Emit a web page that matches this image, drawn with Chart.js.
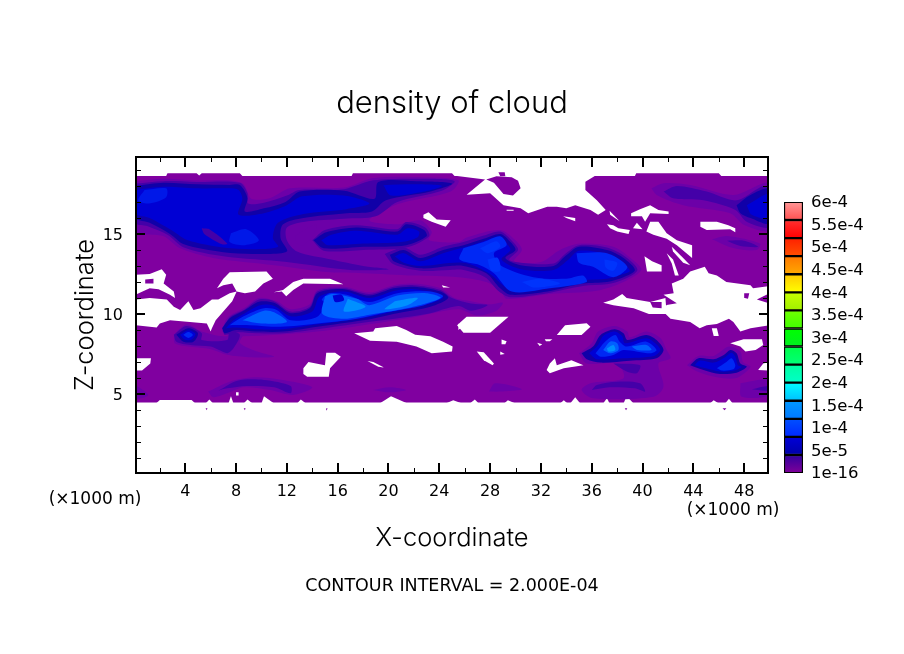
<!DOCTYPE html>
<html>
<head>
<meta charset="utf-8">
<title>density of cloud</title>
<script src="https://cdn.jsdelivr.net/npm/chart.js@4"></script>
<style>
  body { margin: 0; background: #fff; }
  #wrap { position: relative; width: 904px; height: 654px; overflow: hidden; }
  #mainChart { position: absolute; left: 0; top: 0; }
  #barChart { position: absolute; left: 770px; top: 184px; }
</style>
</head>
<body>
<div id="wrap">
  <canvas id="mainChart" width="904" height="654"></canvas>
  <canvas id="barChart" width="110" height="307"></canvas>
</div>
<script>
// axis ticks, km
const xTicks = [4, 8, 12, 16, 20, 24, 28, 32, 36, 40, 44, 48];
const xMinorTicks = [2, 6, 10, 14, 18, 22, 26, 30, 34, 38, 42, 46];
const zTicks = [5, 10, 15];
const zMinorTicks = [1, 2, 3, 4, 6, 7, 8, 9, 11, 12, 13, 14, 16, 17, 18, 19];

// colour bar
const barLabelValues = [0, 5e-5, 1e-4, 1.5e-4, 2e-4, 2.5e-4, 3e-4, 3.5e-4, 4e-4, 4.5e-4, 5e-4, 5.5e-4, 6e-4];
const barLabels = ['1e-16', '5e-5', '1e-4', '1.5e-4', '2e-4', '2.5e-4', '3e-4', '3.5e-4', '4e-4', '4.5e-4', '5e-4', '5.5e-4', '6e-4'];
const barStep = 4e-5;
const barLow = ['#800098', '#0000a8', '#0028ff', '#0078ff', '#00c0ff', '#00ffc8', '#00ff78', '#00f020', '#40ff00', '#a0f000', '#ffff00', '#ffa800', '#ff5000', '#ff0000', '#ff5050'];
const barHigh = ['#3000a0', '#0000d8', '#0050ff', '#0098ff', '#00ffff', '#00ffa0', '#00ff48', '#00ff00', '#70ff00', '#c8ff00', '#ffc800', '#ff7800', '#ff2000', '#ff3030', '#ff9898'];

// field: the outer edge of the cloud-bearing band, [x km, z km]
const purpleBand = [[0.1,18.62],[2.5,18.62],[2.6,18.8],[4.9,18.8],[5.1,18.65],[5.3,18.8],[8.3,18.8],[8.5,18.62],[17.1,18.62],[17.2,18.8],[25,18.8],[25.2,18.62],[39.4,18.62],[39.5,18.8],[46,18.8],[46.2,18.62],[50,18.62],[50,4.46],[0.1,4.46]];

// white where the density is below the lowest contour
const whiteHoles = [
  [[0.1,10.9],[1.2,11],[2.55,10.9],[3.1,10.45],[3.6,10.25],[4.25,10.8],[4.65,10.25],[5.2,10.35],[6.1,10.9],[6.6,10.9],[7.5,11.3],[8.05,11.4],[7.7,10.8],[7.1,10.25],[6.4,9.6],[6.1,9.1],[6,8.9],[5.7,9.4],[2.8,9.6],[2,9.4],[1.75,9.15],[0.1,9.3]],
  [[0.1,12.45],[1.2,12.5],[2.15,12.8],[2.5,12.45],[2.3,11.9],[3.1,11.4],[3.2,11],[2.8,11.2],[1.9,11.55],[1.2,11.6],[0.1,11.2]],
  [[6.5,11.6],[7,12.2],[7.5,12.6],[10.4,12.65],[10.9,12.2],[10.15,11.9],[9.5,11.4],[8.7,11.3],[8.05,11.4],[7.7,11.9],[7,11.8]],
  [[10.95,11.35],[11.7,11.5],[12.5,12],[13.3,12.2],[15.4,12.2],[16.45,11.85],[13.3,11.9],[12.5,11.5],[11.95,11.1],[11.6,11.4]],
  [[24.2,11.8],[24.85,11.65],[24.3,11.65]],
  [[22.75,16.2],[23.15,16.35],[23.8,15.9],[24.9,15.85],[24.5,15.45],[23.4,15.77],[22.75,16]],
  [[25.4,18.62],[27.6,18.4],[26.15,17.45],[28,17.55],[29.05,16.8],[30.4,16.6],[31,16.3],[32.5,16.7],[33.25,16.7],[34,16.6],[34.7,16.8],[35.9,16.5],[36.5,16.2],[37.1,16.5],[36.4,17.1],[35.5,17.75],[35.5,18.27],[36.4,18.7],[36.9,18.9],[37.2,18.62],[39.4,18.62],[39.4,19],[25.4,19]],
  [[29.3,16.52],[29.85,16.52],[29.85,16.45],[29.3,16.45]],
  [[33.75,16.1],[34.7,16],[34.7,15.8],[34,16]],
  [[37.4,16.45],[38.2,15.8],[37.45,16.2]],
  [[37.2,15.6],[37.7,15.55],[38.1,15.35],[39,15.25],[38.9,15],[38,15.15],[37.45,15.35]],
  [[39.25,15.35],[39.55,15.7],[40,15.3]],
  [[39.1,16.3],[39.8,16.55],[40.6,16.8],[41.25,16.5],[42.05,16.4],[42.05,16.25],[40.6,16.3],[40.2,15.77],[39.95,16.1],[39.15,16.1]],
  [[40.3,15.15],[40.6,15.77],[41.25,15.77],[41.9,15.05],[42.7,14.6],[43.9,14.3],[43.9,13.5],[42.7,14.3],[41.9,14.7],[40.85,14.95]],
  [[42.3,14.2],[43.2,13.5],[43.75,13.05],[43.2,13.2],[42.4,13.9]],
  [[41.9,13.8],[42.4,13.4],[42.85,12.4],[42.55,12.4],[42.3,13.15]],
  [[40.15,13.6],[40.75,13.3],[41.5,13.05],[41.5,12.65],[40.35,12.65]],
  [[44.55,15.77],[45.85,15.77],[46.75,15.55],[47.3,15.35],[47.3,15.1],[46.9,15.3],[45.05,15.25],[44.55,15.45]],
  [[42.3,11.9],[43.2,12.2],[43.75,12.65],[44.9,12.95],[45.2,12.55],[45.85,12.4],[46.6,12],[48.5,11.8],[48.7,11.6],[50,11.75],[50,11.3],[49,10.9],[50,10.65],[50,9.3],[48.5,9.1],[47.7,8.9],[47.15,9.5],[46.8,9.7],[45.85,9.375],[45.05,9.3],[44.5,9.1],[43.75,9.5],[42.2,9.7],[41.5,10.25],[41.9,10.56],[42.7,10.67],[41.65,11.2],[42.45,11.3]],
  [[36.9,10.7],[37.7,10.9],[38.4,11.25],[38.75,11],[40.6,10.75],[41.8,11],[41.9,10],[40.5,10],[39.3,10.35],[37.7,10.55]],
  [[25.4,9.3],[26.15,9.83],[29.45,9.83],[28,8.83],[25.9,8.83]],
  [[33.25,8.69],[33.9,9.3],[35.6,9.42],[35.9,9.2],[35.2,8.69]],
  [[28.9,8.4],[29.3,8.3],[29.2,8.1],[28.9,8.1]],
  [[31.7,8.2],[32.1,8.1],[31.9,8]],
  [[32.3,8.42],[32.9,8.42],[32.7,8.3],[32.4,8.3]],
  [[26.95,7.65],[27.5,7.6],[28.3,6.9],[28.2,6.8],[27.5,7.1]],
  [[28.8,7.65],[29.15,7.5],[28.8,7.45]],
  [[32.45,6.5],[32.7,6.9],[33.1,7.23],[33.25,6.8],[34.4,7.1],[35.35,6.8],[33.8,6.6],[32.7,6.3]],
  [[46.9,8.17],[47.95,8.42],[49.4,8.42],[49.5,8.06],[48.9,7.75],[48.1,7.65],[47.7,7.96]],
  [[49.1,6.5],[49.5,6.9],[50,7],[50,6.46]],
  [[45.45,9.1],[45.85,9.1],[46,8.625],[45.6,8.625]],
  [[17.3,8.8],[18.8,8.9],[18.95,9.1],[20.65,9.25],[21.4,9],[22.1,8.7],[23.3,8.6],[24.3,8.27],[25.05,7.96],[25,7.65],[23.4,7.54],[22.2,7.96],[20.65,8.27],[18.55,8.33]],
  [[13.3,6.6],[13.7,7],[15,6.8],[15.1,7.58],[15.8,7.58],[16.25,7.33],[15.4,6.6],[15.3,6.08],[13.6,6.08],[13.3,6.25]],
  [[18.35,7.06],[18.8,7],[19.65,6.65],[19.2,6.7]],
  [[0.1,7.23],[1.3,7.23],[1.25,6.9],[0.6,6.46],[0.1,6.46]],
  [[25.5,9.4],[25.8,9.2],[25.5,9]],
  [[8,5.1],[8.2,5.1],[8.2,4.9],[8,4.9]],
  [[1.7,4.4],[2,4.62],[4.5,4.62],[4.8,4.4]],
  [[5.6,4.4],[5.9,4.65],[6.2,4.4]],
  [[7.4,4.4],[7.6,4.85],[7.8,4.4]],
  [[8.6,4.4],[8.9,4.65],[9.3,4.4]],
  [[10,4.4],[10.2,4.85],[11,4.4]],
  [[12.8,4.4],[13.1,4.65],[13.5,4.4]],
  [[19.3,4.4],[20.2,4.85],[21.5,4.4]],
  [[24.5,4.4],[25.1,4.6],[25.8,4.4]],
  [[26.4,4.4],[26.8,4.65],[27.1,4.4]],
  [[29.1,4.4],[29.4,4.6],[30,4.4]],
  [[33.5,4.4],[33.8,4.6],[34.1,4.4]],
  [[34.3,4.4],[34.7,4.8],[35.1,4.4]],
  [[36.9,4.4],[37.2,4.75],[37.4,4.4]],
  [[38.5,4.4],[38.75,4.85],[39.3,4.4]],
  [[45.3,4.4],[45.6,4.6],[46,4.4]],
  [[46.5,4.4],[46.8,4.7],[47.1,4.4]]
];

// purple again where it sits inside a white area, and the specks under the band
const purplePatches = [
  [[27.7,18.4],[28.5,18.6],[29.7,18.55],[30.2,18.33],[30.4,17.85],[29.8,17.4],[29.05,17.5],[28.3,18.2]],
  [[28.65,18.85],[29.15,18.85],[29.2,18.6],[28.8,18.6]],
  [[0.85,12.15],[1.5,12.2],[1.5,11.9],[0.9,11.9]],
  [[40.6,10.75],[41.5,10.75],[41.5,10.35],[40.8,10.4]],
  [[48,11.3],[48.4,11.3],[48.3,10.95],[48.05,11]],
  [[5.6,4.1],[5.75,4.1],[5.7,3.98]],
  [[8.6,4.1],[8.75,4.1],[8.7,3.98]],
  [[15.1,4.1],[15.2,4.1],[15.15,3.98]],
  [[38.6,4.1],[38.8,4.1],[38.7,3.98]],
  [[46.3,4.1],[46.6,4.1],[46.45,3.98]]
];

const level1Blobs = [
  [[0.1,18.3],[2.3,18.45],[4.9,18.35],[7.5,18.35],[8.6,18.1],[9.2,17.2],[10.7,17.25],[12.25,17.85],[16.5,17.9],[18.8,18.5],[22.8,18.55],[25.5,18.35],[24.9,17.65],[20.7,16.85],[18.5,15.85],[20.7,15.6],[22.5,15.85],[23.4,15.15],[23.2,14.6],[25.5,14.5],[26.2,14.8],[28.8,15.25],[30,14.6],[30.5,14],[29.9,13.3],[32,13.25],[33.5,14],[35.1,14.4],[37.7,14.2],[39.2,13.4],[39.9,12.75],[38.5,12],[36.4,11.45],[32.7,11.25],[29.3,10.95],[28.8,11.5],[27.7,12],[25.5,12.3],[22,12.4],[18,12.55],[15.4,12.6],[11,13.05],[6.2,13.5],[3.6,14.1],[2.3,14.85],[0.1,15.2]],
  [[6.9,8.9],[7.3,9.75],[8.7,10.4],[9.8,11],[11.2,10.8],[12.3,10.3],[13.8,10.6],[14.4,11.5],[16.5,11.7],[18.5,11.35],[20.4,11.8],[22,11.9],[24.1,11.6],[25.2,11],[26.5,10.8],[28,10.6],[29,10.7],[28.5,10.2],[27,9.9],[25.5,10.3],[22,9.8],[18,9.3],[14.4,8.9],[11.2,8.7],[8.6,8.6],[7.5,8.6]],
  [[3.1,8.7],[4.1,9.35],[5.3,8.9],[7,8.6],[8.6,8.8],[8.3,8.2],[9.5,7.7],[11,7.33],[9,7.3],[7.3,7.45],[6,7.8],[4.4,7.95],[3.2,8.15]],
  [[5.8,5.15],[7.5,5.77],[9.4,6.04],[11.7,5.875],[14,5.42],[12.5,4.94],[10.7,5.25],[8.6,5.42],[7.3,5.04],[6.2,4.8]],
  [[18.8,5.25],[20.1,5.42],[21.4,5.25],[20.1,5.1]],
  [[0.1,5.56],[1.1,4.94],[0.1,4.73]],
  [[35,7.54],[36,8.17],[36.5,8.9],[37.8,9.25],[38.8,8.9],[39,8.54],[40.3,8.9],[41.4,8.5],[41.9,7.75],[42.2,7.23],[41.25,6.9],[41.65,5.46],[40.9,4.83],[36.1,4.73],[35.2,5.25],[35.9,5.67],[38.5,5.98],[38,6.9],[35.6,6.9]],
  [[43.5,6.8],[44.4,7.375],[45.6,7.375],[46.8,7.96],[47.7,7.65],[47.9,7],[48.5,6.7],[47.4,6],[45.85,6.04],[44.3,6.4]],
  [[47.7,5.67],[50,5.875],[50,4.94],[47.8,4.83]],
  [[27.9,5.15],[28.4,5.67],[30.5,5.3],[28.8,5.15]],
  [[40.7,17.85],[41.65,18.17],[43.75,18.06],[47.15,17.44],[50,18.17],[50,15.25],[48,15.56],[46.9,16.3],[43.2,16.8],[41.1,17.44]],
  [[45.45,14.67],[46.65,14.875],[49.25,14.4],[49,14],[47.2,14.1]]
];

const level2Blobs = [
  [[0.1,18.15],[2.3,18.3],[4.9,18.25],[8.3,18.2],[8.9,17.55],[8.95,16.9],[10.2,16.95],[12,17.4],[13,17.75],[16.5,17.8],[18.8,18.35],[22.8,18.45],[25.2,18.3],[24.2,17.7],[20.7,17],[19,16.1],[16.5,15.95],[13.3,15.75],[12,15.4],[12,14.6],[12.8,13.9],[15.5,13.4],[18,13],[20,12.8],[17,12.75],[12,13.25],[7,13.6],[3.9,14.15],[2.6,14.95],[1,15.5],[0.1,15.7]],
  [[14,14.6],[15,15.25],[17.5,15.55],[20.7,15.3],[21.4,15.75],[22.9,15.4],[23.2,14.85],[21.4,14.15],[18,14],[14.9,13.95]],
  [[19.7,13.75],[21.2,14.15],[22.5,13.7],[24.3,14.2],[25.9,14.5],[27.5,14.9],[28.8,15.15],[29.8,14.5],[30.2,14],[29.5,13.4],[30.4,13.2],[33,13.15],[33.9,13.75],[35,14.3],[37.2,14.15],[38.7,13.55],[39.6,12.75],[38.5,12.15],[37.2,11.85],[35.3,11.75],[32.5,11.3],[29.6,11.05],[28.7,11.4],[27.6,12.3],[25.9,12.75],[24.85,12.75],[22.5,12.7],[20.4,13.1]],
  [[7,8.95],[7.5,9.8],[8.7,10.3],[9.8,10.9],[11,10.8],[12.3,10.15],[13.8,10.45],[14.4,11.4],[16.5,11.6],[18.5,11.25],[20.4,11.7],[22,11.8],[24.1,11.5],[25,11],[26.5,10.65],[27.8,10.55],[26.5,10.2],[25.5,10.5],[23,10],[18,9.45],[14.4,9.05],[11.7,8.8],[9.6,8.8],[8,8.85],[7.1,8.7]],
  [[3.1,8.7],[4.1,9.25],[5.3,8.8],[5.3,8.375],[7.3,8.375],[7.5,8.9],[8.3,8.7],[7.8,7.85],[7.3,7.55],[6,7.96],[4.4,8.06],[3.3,8.27]],
  [[6.6,5.2],[8.1,5.83],[10.2,5.875],[12.3,5.5],[12.3,5.04],[11,5.42],[8.85,5.5],[7.3,5.35]],
  [[37.7,6.9],[39.8,6.8],[39.55,6.3],[38.75,6.4]],
  [[36,5.25],[36.4,5.56],[38,5.77],[39.8,5.67],[40.2,5.15],[39.4,5.35],[37.4,5.42]],
  [[48.6,5.3],[50,5.5],[50,5.2]],
  [[41.65,17.65],[42.7,18],[45.05,17.65],[47.4,17.1],[49.7,17.96],[50,15.46],[48.2,15.77],[47.3,16.5],[44.8,17.1],[42.4,17.23]],
  [[46.65,14.58],[48,14.58],[49.1,14.2],[47.7,14.25]]
];

// purple inlet between the upper cloud and the second lobe
const inletPatches = [
  [[12.65,14.85],[13.6,15.35],[14.35,15.56],[14,14.85],[13.3,14.3],[12.8,14.4]]
];

const level4Blobs = [
  [[0.1,18],[2.3,18.2],[4.9,18.1],[7.5,18.06],[8.3,18.06],[8.9,17.25],[8.7,16.4],[10.2,16.6],[11.9,17],[13,17.65],[16.5,17.7],[18.9,17.2],[19.2,18.25],[22.2,18.3],[25,18.15],[23.3,17.65],[19.8,17.1],[18.7,16.4],[16.7,16.3],[13.3,16],[11.7,15.6],[11.5,14.75],[12,13.9],[9.6,13.75],[7,13.85],[3.9,14.35],[2.8,15],[1.2,15.7],[0.1,16]],
  [[14.1,14.6],[15.1,15.1],[17.5,15.4],[20.7,15.15],[21.4,15.6],[22.8,15.25],[23,14.85],[21.4,14.3],[18,14.2],[14.9,14.1]],
  [[20.1,13.7],[21.2,14],[22.5,13.5],[24.3,14],[25.9,14.3],[27.5,14.7],[28.8,15],[29.6,14.5],[30,14],[29.2,13.5],[30.4,13.05],[33,13],[33.9,13.6],[35,14.2],[37.2,14],[38.5,13.5],[39.4,12.75],[38.5,12.3],[37.2,12],[35.3,11.9],[32.5,11.4],[29.6,11.2],[28.8,11.6],[27.7,12.55],[25.9,13],[24.85,13],[22.5,12.85],[20.4,13.3]],
  [[6.9,9.1],[7.5,9.73],[8.7,10.25],[9.8,10.77],[11,10.7],[12.3,10.05],[13.8,10.35],[14.4,11.3],[16.5,11.55],[18.5,11.15],[20.4,11.6],[22,11.7],[24.1,11.4],[24.7,11],[23.3,10.45],[20.7,10.05],[18,9.6],[14.4,9.2],[11.7,8.9],[9.6,8.9],[8,9],[7.1,8.8]],
  [[3.3,8.7],[4.25,9.1],[5,8.8],[4.65,8.27],[3.85,8.27]],
  [[35.2,7.54],[36.1,7.96],[36.7,8.69],[37.8,9.04],[38.5,8.79],[38.8,8.375],[40.3,8.69],[41.1,8.375],[41.65,7.75],[41.1,7.23],[39,7.08],[36.7,6.96],[35.6,7.17]],
  [[43.75,6.8],[44.4,7.23],[45.6,7.17],[46.4,7.44],[46.9,7.75],[47.4,7.54],[47.7,6.9],[48.2,6.7],[47.4,6.33],[46.1,6.25],[44.8,6.5]],
  [[47.4,16.8],[48.5,17.44],[50,17.8],[50,15.67],[48.5,16],[47.7,16.3]]
];

const level5Blobs = [
  [[0.1,17.75],[2.3,17.95],[4.9,17.85],[7.5,17.85],[8.2,17.75],[8.5,17.2],[8.2,16.2],[10.2,16.3],[12,16.8],[13.2,17.35],[16.5,17.4],[18.5,16.9],[16.7,16.55],[13.3,16.25],[11.3,15.7],[10.9,14.75],[11.3,14.2],[9.6,14.05],[7,14.15],[4.2,14.6],[3,15.2],[1.2,16],[0.1,16.3]],
  [[19.6,18.05],[22.2,18.1],[24.2,18],[22.8,17.65],[20.2,17.4]],
  [[14.7,14.6],[15.5,14.95],[17.5,15.2],[20.7,14.95],[21.5,15.35],[22.4,15.15],[22.3,14.8],[21,14.5],[18,14.4],[15.2,14.3]],
  [[20.5,13.6],[21.2,13.8],[22.5,13.3],[24.3,13.8],[25.9,14.15],[27.5,14.55],[28.8,14.85],[29.3,14.4],[29.6,14],[28.9,13.4],[30.4,12.8],[33,12.75],[34.1,13.35],[35,13.95],[37.2,13.75],[38.3,13.3],[39,12.7],[38.3,12.45],[37.2,12.2],[35.3,12.1],[32.5,11.6],[29.8,11.45],[29,11.8],[28,12.5],[25.9,13.2],[22.5,13],[21.2,13.2]],
  [[7.2,9.1],[7.8,9.6],[8.7,10.05],[9.9,10.55],[11,10.5],[12.3,9.85],[14,10.15],[14.6,11.1],[16.5,11.4],[18.5,11],[20.5,11.45],[22,11.55],[24,11.25],[24.3,11],[23,10.6],[20.7,10.2],[18,9.75],[14.4,9.35],[11.7,9.05],[9.6,9.05],[8,9.15]],
  [[3.6,8.7],[4.25,8.98],[4.8,8.75],[4.5,8.4],[3.95,8.4]],
  [[35.8,7.54],[36.5,8.06],[36.9,8.625],[37.8,8.9],[38.4,8.6],[38.6,8.17],[40.3,8.48],[41,8.17],[41.4,7.75],[40.9,7.375],[38.5,7.23],[36.4,7.17]],
  [[44.1,6.8],[44.5,7.08],[45.6,6.96],[46.5,7.3],[47,7.58],[47.3,7.33],[47.5,6.8],[47.8,6.7],[47.2,6.46],[46.1,6.4],[45,6.6]],
  [[48.2,16.8],[50,17.5],[50,16],[48.6,16.2]]
];

// the narrow dark streak in the upper cloud
const streakPatches = [
  [[5.3,15.35],[5.9,15.3],[7.3,14.4],[6.9,14.35],[5.5,15]]
];

// the slightly brighter parts of the upper cloud
const upperBrightBlobs = [
  [[0.8,17.75],[2.5,17.85],[2.5,17.3],[1.1,16.9],[0.3,17.1]],
  [[7.6,15.05],[8.8,15.3],[9.8,14.6],[8.7,14.3],[7.5,14.5]]
];

const level6Blobs = [
  [[25.9,14.1],[27.5,14.5],[28.8,14.85],[29.3,14.3],[28.3,13.8],[28.8,13.05],[31.4,12.3],[34,12.2],[35.3,12.4],[35.6,12],[32.7,11.6],[29.7,11.4],[28.3,12.55],[27.2,13.05],[25.6,13.4]],
  [[34.8,13.8],[37.2,13.8],[38.8,12.95],[37.7,12.3],[36.1,12.95],[35,13.2]],
  [[7.5,9.3],[8.6,9.85],[10.2,10.35],[11.2,10.25],[12.3,9.6],[14.4,9.83],[15,10.67],[14.75,10.9],[15.4,11.3],[16.7,11.2],[18.5,10.75],[20.7,11.3],[23.3,11.4],[24.3,11.1],[22.8,10.55],[20.1,10.15],[17.5,9.7],[14.4,9.4],[11.5,9.2],[9.1,9.3]],
  [[3.85,8.7],[4.25,8.88],[4.6,8.7],[4.25,8.5]],
  [[36.3,7.54],[37.05,8.27],[37.85,8.69],[38.2,8.27],[38.76,7.96],[40.3,8.27],[41.1,7.75],[40.6,7.54],[38.5,7.75],[37.7,7.44],[36.7,7.33]],
  [[45.85,6.6],[46.6,7],[47,7.23],[47.3,6.8],[47.15,6.54],[46.25,6.46]]
];

// lighter patches inside the middle cloud
const midBrightBlobs = [
  [[27.2,14.1],[28.5,14.55],[28.8,14.2],[27.8,13.8]],
  [[27.8,13.4],[28.6,13.5],[28.8,12.7],[28.1,12.7]],
  [[30.5,12],[32,12.2],[33.5,11.9],[31.5,11.65]],
  [[37,13.4],[38,13.2],[37.7,12.7],[37.1,12.9]]
];

const level7Blobs = [
  [[8.5,9.6],[10.2,10.2],[11,10.1],[12,9.5],[10,9.4]],
  [[15,11.1],[15.6,11.25],[17.5,10.95],[18.5,10.55],[20.7,11.15],[23,11.3],[24.1,11],[21.4,10.35],[18.5,9.95],[16.5,9.7],[14.8,10]],
  [[36.9,7.75],[37.45,8.27],[38,8.17],[38.1,7.75],[37.45,7.54]],
  [[39.15,7.96],[40.3,8.06],[40.7,7.75],[39.55,7.75]]
];

const level8Blobs = [
  [[16.8,10.95],[18.2,10.45],[16.5,10.15]],
  [[20.5,10.8],[22.3,11],[21.5,10.55],[19.7,10.3]],
  [[37.2,7.85],[37.7,8.06],[37.85,7.75],[37.3,7.65]]
];

// dark core inside the brightest part of the lower cloud
const coreSpots = [
  [[15.6,11.15],[16.3,11.2],[16.5,10.85],[15.8,10.75]]
];

const PURPLE = '#8000a0';
const paintLayers = [
  { polys: [purpleBand], color: PURPLE, tension: 0 },
  { polys: whiteHoles, color: '#ffffff', tension: 0 },
  { polys: purplePatches, color: PURPLE, tension: 0 },
  { polys: level1Blobs, color: '#6c00a8', tension: 0.3 },
  { polys: level2Blobs, color: '#4400a8', tension: 0.3 },
  { polys: inletPatches, color: '#6c00a8', tension: 0.3 },
  { polys: level4Blobs, color: '#1000a8', tension: 0.3 },
  { polys: level5Blobs, color: '#0000d4', tension: 0.3 },
  { polys: streakPatches, color: '#4400a8', tension: 0.3 },
  { polys: upperBrightBlobs, color: '#0018e8', tension: 0.3 },
  { polys: level6Blobs, color: '#0028f4', tension: 0.3 },
  { polys: midBrightBlobs, color: '#0034fc', tension: 0.3 },
  { polys: level7Blobs, color: '#0060ff', tension: 0.3 },
  { polys: level8Blobs, color: '#0090ff', tension: 0.3 },
  { polys: coreSpots, color: '#0000d4', tension: 0.3 }
];

// every polygon becomes a filled closed line; later ones paint over earlier ones
let fieldDatasets = [];
paintLayers.forEach(layer => {
  layer.polys.forEach(poly => {
    const pts = poly.map(p => ({ x: p[0], y: p[1] }));
    pts.push({ x: poly[0][0], y: poly[0][1] });
    fieldDatasets.push({
      data: pts,
      showLine: true,
      fill: 'shape',
      backgroundColor: layer.color,
      borderWidth: 0,
      pointRadius: 0,
      tension: layer.tension
    });
  });
});
fieldDatasets.forEach((ds, i) => { ds.order = fieldDatasets.length - i; });

// inward tick marks on all four sides, frame and the two unit labels
const framePlugin = {
  id: 'frame',
  afterDatasetsDraw(chart) {
    const { ctx, chartArea: a, scales } = chart;
    const mark = (x1, y1, x2, y2, w) => {
      ctx.lineWidth = w;
      ctx.beginPath();
      ctx.moveTo(x1, y1);
      ctx.lineTo(x2, y2);
      ctx.stroke();
    };
    ctx.save();
    ctx.strokeStyle = '#000';
    const xMark = (v, len, w) => {
      const px = Math.round(scales.x.getPixelForValue(v)) + (w % 2) / 2;
      mark(px, a.top, px, a.top + len, w);
      mark(px, a.bottom, px, a.bottom - len, w);
    };
    const zMark = (v, len, w) => {
      const py = Math.round(scales.y.getPixelForValue(v)) + (w % 2) / 2;
      mark(a.left, py, a.left + len, py, w);
      mark(a.right, py, a.right - len, py, w);
    };
    xTicks.forEach(v => xMark(v, 10, 2));
    xMinorTicks.forEach(v => xMark(v, 5, 1));
    zTicks.forEach(v => zMark(v, 9, 2));
    zMinorTicks.forEach(v => zMark(v, 5, 1));
    ctx.lineWidth = 2;
    ctx.strokeRect(a.left, a.top, a.right - a.left, a.bottom - a.top);

    ctx.fillStyle = '#000';
    ctx.font = '17px "DejaVu Sans"';
    ctx.textAlign = 'center';
    ctx.textBaseline = 'middle';
    ctx.fillText('(×1000 m)', 95, 500);
    ctx.fillText('(×1000 m)', 733, 511);
    ctx.restore();
  }
};

new Chart(document.getElementById('mainChart'), {
  type: 'scatter',
  data: { datasets: fieldDatasets },
  plugins: [framePlugin],
  options: {
    responsive: false,
    devicePixelRatio: 1,
    animation: false,
    events: [],
    plugins: {
      legend: { display: false },
      tooltip: { enabled: false },
      title: {
        display: true,
        text: 'density of cloud',
        color: '#000',
        font: { family: 'Inter, "DejaVu Sans"', size: 31, weight: 300 },
        padding: { top: 85.4, bottom: 34.4 }
      },
      subtitle: {
        display: true,
        position: 'bottom',
        text: 'CONTOUR INTERVAL = 2.000E-04',
        color: '#000',
        font: { family: '"DejaVu Sans"', size: 17.5, weight: 'normal' },
        padding: { top: 0, bottom: 57.5 }
      }
    },
    scales: {
      x: {
        type: 'linear',
        min: 0.125,
        max: 49.875,
        afterFit(axis) { axis.height = 102.5; },
        grid: { display: false, drawTicks: false, tickLength: 0 },
        border: { display: false },
        ticks: {
          stepSize: 4,
          includeBounds: false,
          padding: 9,
          color: '#000',
          maxRotation: 0,
          font: { family: '"DejaVu Sans"', size: 16 }
        },
        title: {
          display: true,
          text: 'X-coordinate',
          color: '#000',
          font: { family: 'Inter, "DejaVu Sans"', size: 25.5, weight: 300 },
          padding: { top: 0, bottom: 21.5 }
        }
      },
      y: {
        min: 0.06,
        max: 19.81,
        afterFit(axis) { axis.width = 136; },
        grid: { display: false, drawTicks: false, tickLength: 0 },
        border: { display: false },
        ticks: {
          stepSize: 5,
          includeBounds: false,
          padding: 13,
          labelOffset: 2,
          color: '#000',
          font: { family: '"DejaVu Sans"', size: 16 }
        },
        title: {
          display: true,
          text: 'Z-coordinate',
          color: '#000',
          font: { family: 'Inter, "DejaVu Sans"', size: 25.5, weight: 300 },
          padding: { top: 70, bottom: 0 }
        }
      },
      // empty right margin, so the title stays centred on the whole page
      rightMargin: {
        position: 'right',
        afterFit(axis) { axis.width = 136; },
        grid: { display: false, drawTicks: false },
        border: { display: false },
        ticks: { display: false }
      }
    }
  }
});

// colour bar: one stacked bar per contour interval
const barDatasets = barLow.map((c, i) => ({
  data: [barStep],
  borderColor: '#000',
  borderWidth: 1.5,
  borderSkipped: false,
  categoryPercentage: 1,
  barPercentage: 1,
  backgroundColor(context) {
    const scale = context.chart.scales.y;
    if (!scale) return c;
    const y0 = scale.getPixelForValue(i * barStep);
    const y1 = scale.getPixelForValue((i + 1) * barStep);
    if (!Number.isFinite(y0) || !Number.isFinite(y1)) return c;
    const g = context.chart.ctx.createLinearGradient(0, y0, 0, y1);
    g.addColorStop(0, barLow[i]);
    g.addColorStop(1, barHigh[i]);
    return g;
  }
}));

new Chart(document.getElementById('barChart'), {
  type: 'bar',
  data: { labels: [''], datasets: barDatasets },
  options: {
    responsive: false,
    devicePixelRatio: 1,
    animation: false,
    events: [],
    layout: { padding: { left: 14, top: 7, bottom: 7, right: 0 } },
    plugins: { legend: { display: false }, tooltip: { enabled: false } },
    scales: {
      x: { stacked: true, display: false },
      y: {
        stacked: true,
        position: 'right',
        min: 0,
        max: 6e-4,
        afterFit(axis) { axis.width = 77; },
        afterBuildTicks(axis) { axis.ticks = barLabelValues.map(v => ({ value: v })); },
        grid: { display: false, drawTicks: false, tickLength: 0 },
        border: { display: false },
        ticks: {
          padding: 8,
          color: '#000',
          autoSkip: false,
          labelOffset: 1,
          font: { family: '"DejaVu Sans"', size: 16.5 },
          callback(value) {
            const idx = barLabelValues.findIndex(v => Math.abs(v - value) < 1e-6);
            return barLabels[idx];
          }
        }
      }
    }
  }
});
</script>
</body>
</html>
